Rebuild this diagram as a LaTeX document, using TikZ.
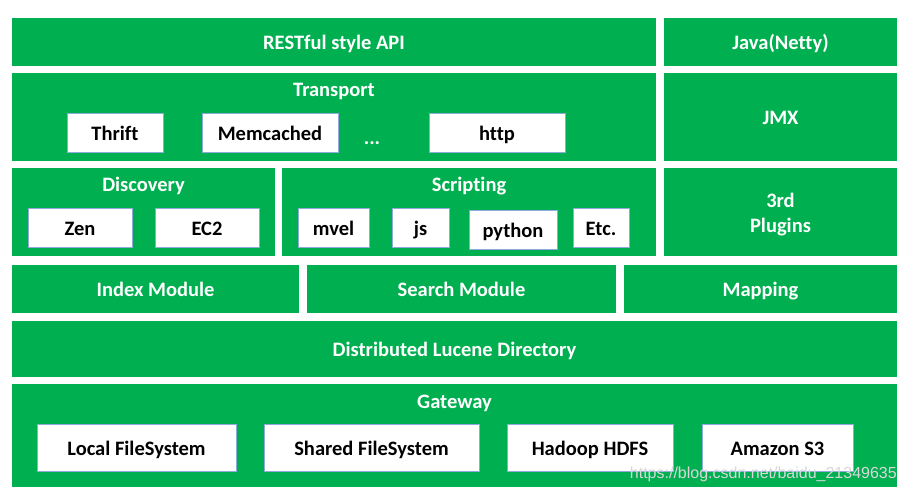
\documentclass[tikz,border=0pt]{standalone}
\usepackage{fontspec}
\usepackage{tikz}
\setmainfont[Ligatures=NoCommon]{Carlito}
\newfontfamily\markfont{Liberation Sans}

\definecolor{esgreen}{HTML}{00B050}
\definecolor{boxline}{HTML}{8FAADC}
\definecolor{markgray}{HTML}{D8D8D8}

\tikzset{
	bigfont/.style={font=\bfseries\fontsize{20.5}{25}\selectfont},
	layer/.style={bigfont, fill=esgreen, text=white, inner sep=0pt,
		text height=15pt, text depth=0pt},
	item/.style={bigfont, fill=white, draw=boxline, line width=0.8pt,
		text=black, inner sep=0pt, text height=15pt, text depth=0pt},
	title/.style={bigfont, text=white, inner sep=0pt, anchor=base}
}

\begin{document}
\begin{tikzpicture}[x=1pt,y=-1pt]

	\useasboundingbox (0,0) rectangle (908,498);

	% green layers
	\foreach \n / \x / \y / \w / \h / \t in {
	rest/334/42/644/48/{RESTful style API},
	java/780.5/42/233/48/{Java(Netty)},
	transport/334/117/644/88/{},
	jmx/780.5/117/233/88/{JMX},
	discovery/143.5/212/263/88/{},
	scripting/469/212/374/88/{},
	plugins/780.5/212/233/88/{},
	index/155.5/289/287/48/{Index Module},
	search/461.5/289/309/48/{Search Module},
	mapping/760.5/289/273/48/{Mapping},
	lucene/454.5/349/885/56/{Distributed Lucene Directory},
	gateway/454.5/435.5/885/103/{}}
	{
		\node[layer, minimum width=\w pt, minimum height=\h pt] (\n) at (\x,\y) {\t};
	};

	% titles of the layers
	\node[title] (transporttitle) at (334,96.5) {Transport};
	\node[title] (discoverytitle) at (143.5,191.5) {Discovery};
	\node[title] (scriptingtitle) at (469,191.5) {Scripting};
	\node[title, anchor=center, align=center] (pluginstitle) at (780.5,215) {3rd\\Plugins};
	\node[title] (gatewaytitle) at (454.5,408) {Gateway};
	\node[title] (dots) at (372,144) {...};

	% white boxes
	\foreach \n / \x / \y / \w / \h / \t in {
	thrift/115/132.5/96/39/{Thrift},
	memcached/270/132.5/136/39/{Memcached},
	http/497/132.5/136/39/{http},
	zen/80/227.5/104/39/{Zen},
	ectwo/207/227.5/104/39/{EC2},
	mvel/333.5/227.5/71/39/{mvel},
	js/420.5/227.5/57/39/{js},
	python/513/229.5/88/39/{python},
	etc/601/227.5/56/39/{Etc.},
	local/136.5/447.5/199/47/{Local FileSystem},
	shared/371.5/447.5/215/47/{Shared FileSystem},
	hadoop/590/447.5/166/47/{Hadoop HDFS},
	amazon/777.5/447.5/151/47/{Amazon S3}}
	{
		\node[item, minimum width=\w pt, minimum height=\h pt] (\n) at (\x,\y) {\t};
	};

	\node[anchor=base east, inner sep=0pt, text=markgray,
		font=\markfont\fontsize{16}{18}\selectfont] (mark) at (897,478.5)
		{https://blog.csdn.net/baidu\_21349635};
\end{tikzpicture}
\end{document}
